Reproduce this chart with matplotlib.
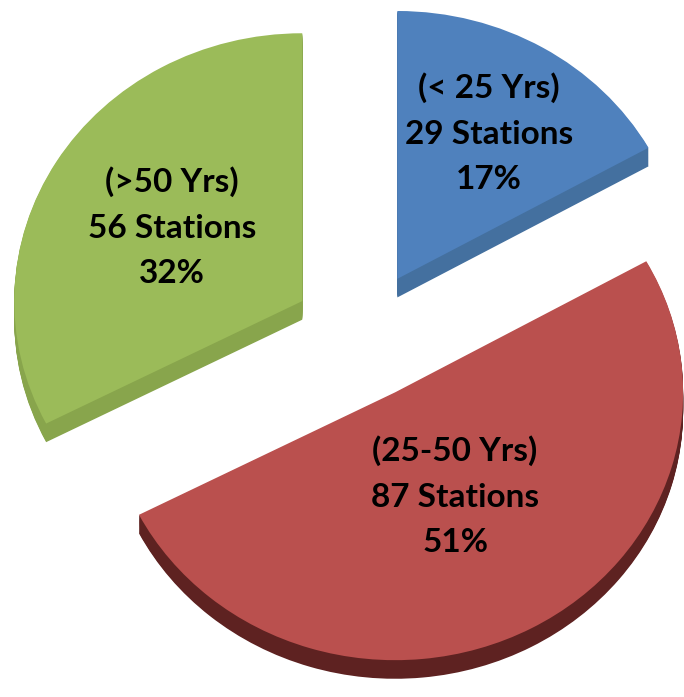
import numpy as np
import matplotlib
matplotlib.use("Agg")
import matplotlib.pyplot as plt

# station counts by age group
groups = ["(< 25 Yrs)", "(25-50 Yrs)", "(>50 Yrs)"]
stations = [29, 87, 56]
percents = [17, 51, 32]

top_colors = ["#4F81BD", "#BA504E", "#9BBB59"]
side_colors = ["#44709F", "#5E2221", "#88A54C"]

# pie geometry (x in pixels, y squashed to fake the tilt)
SQUASH = 0.93
R = 288
CX, CY = 362, 362 / SQUASH
EXPLODE = 0.243
DEPTH = 20
label_frac = [0.63, 0.44, 0.53]

fig = plt.figure(figsize=(6.84, 6.97), dpi=100)
ax = fig.add_axes([0, 0, 1, 1])

# pie's explode is an absolute offset in data units
explode = [EXPLODE * R] * len(stations)
common = dict(explode=explode, startangle=90, counterclock=False, radius=R,
              wedgeprops=dict(linewidth=0))

# side walls: stack darker copies below the top face
for k in range(DEPTH, 0, -1):
    ax.pie(stations, colors=side_colors, center=(CX, CY - k), **common)
ax.pie(stations, colors=top_colors, center=(CX, CY), **common)

# data labels
fracs = np.array(stations) / sum(stations)
starts = np.concatenate([[0], np.cumsum(fracs)[:-1]])
for i, g in enumerate(groups):
    ang = np.deg2rad(90 - (starts[i] + fracs[i] / 2) * 360)
    dist = (EXPLODE + label_frac[i]) * R
    ax.text(CX + dist * np.cos(ang), CY + dist * np.sin(ang),
            f"{g}\n{stations[i]} Stations\n{percents[i]}%",
            ha="center", va="center", fontsize=24, fontweight="bold",
            family=["Lato", "DejaVu Sans"], linespacing=1.68, color="black")

ax.set_aspect("auto")
ax.set_xlim(0, 684)
ax.set_ylim(0, 697 / SQUASH)
ax.axis("off")

fig.savefig("out.png", dpi=100, facecolor="white")
